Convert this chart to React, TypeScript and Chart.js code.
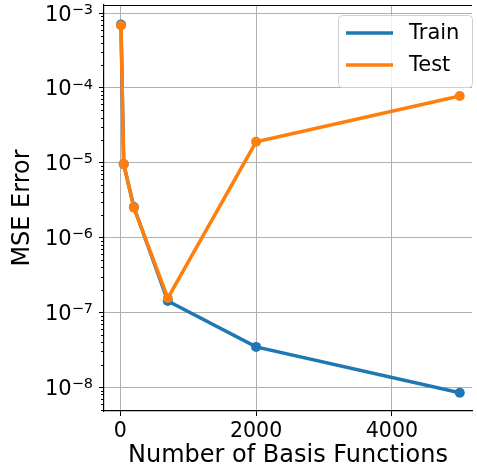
import React, { useEffect, useRef } from "react";
import { Chart, registerables } from "chart.js";

Chart.register(...registerables);

const xValues = [10, 50, 200, 700, 2000, 5000];
const trainMSE = [7.0e-4, 9.6e-6, 2.55e-6, 1.42e-7, 3.45e-8, 8.4e-9];
const testMSE = [6.8e-4, 9.5e-6, 2.5e-6, 1.55e-7, 1.9e-5, 7.8e-5];
const seriesLabels = ["Train", "Test"];
const seriesColors = ["#1f77b4", "#ff7f0e"];
const xTickValues = [0, 2000, 4000];
const yTickExponents = [-9, -8, -7, -6, -5, -4, -3];
const xTitle = "Number of Basis Functions";
const yTitle = "MSE Error";

const X_MIN = -240;
const X_MAX = 5180;
const Y_MIN = 4.8e-9;
const Y_MAX = 1.28e-3;

const FONT = "'DejaVu Sans', sans-serif";

const isMajor = (v: number) => {
  if (!(v > 0)) return false;
  const l = Math.log10(v);
  return Math.abs(l - Math.round(l)) < 1e-6;
};

const yTicks = (() => {
  const out: { value: number; major: boolean }[] = [];
  for (const e of yTickExponents) {
    for (let m = 1; m <= 9; m++) {
      const v = m * Math.pow(10, e);
      if (v >= Y_MIN && v <= Y_MAX) out.push({ value: v, major: m === 1 });
    }
  }
  return out;
})();

const decorPlugin = {
  id: "decor",
  afterDraw(chart: any) {
    const { ctx, chartArea, scales } = chart;
    ctx.save();
    // top spine
    ctx.strokeStyle = "#000";
    ctx.lineWidth = 1.2;
    ctx.beginPath();
    ctx.moveTo(chartArea.left, chartArea.top + 0.5);
    ctx.lineTo(chartArea.right, chartArea.top + 0.5);
    ctx.stroke();
    // minor ticks + major tick labels (10 with superscript exponent) on y axis
    const ys = scales.y;
    ctx.lineWidth = 1;
    for (const t of ys.ticks) {
      const py = ys.getPixelForValue(t.value);
      if (!isMajor(t.value)) {
        const p = Math.round(py) + 0.5;
        ctx.beginPath();
        ctx.moveTo(chartArea.left - 3, p);
        ctx.lineTo(chartArea.left, p);
        ctx.stroke();
        continue;
      }
      const exp = Math.round(Math.log10(t.value));
      const supText = String(exp).replace("-", "\u2212");
      const right = chartArea.left - 11;
      ctx.fillStyle = "#000";
      ctx.textBaseline = "alphabetic";
      ctx.textAlign = "left";
      ctx.font = `14.5px ${FONT}`;
      const supW = ctx.measureText(supText).width;
      ctx.font = `21px ${FONT}`;
      const baseW = ctx.measureText("10").width;
      ctx.fillText("10", right - supW - baseW, py + 7.6);
      ctx.font = `14.5px ${FONT}`;
      ctx.fillText(supText, right - supW, py + 0.8);
    }
    // legend
    const bx = 338.5,
      by = 15.5,
      bw = 134,
      bh = 72,
      r = 4;
    ctx.beginPath();
    ctx.moveTo(bx + r, by);
    ctx.lineTo(bx + bw - r, by);
    ctx.quadraticCurveTo(bx + bw, by, bx + bw, by + r);
    ctx.lineTo(bx + bw, by + bh - r);
    ctx.quadraticCurveTo(bx + bw, by + bh, bx + bw - r, by + bh);
    ctx.lineTo(bx + r, by + bh);
    ctx.quadraticCurveTo(bx, by + bh, bx, by + bh - r);
    ctx.lineTo(bx, by + r);
    ctx.quadraticCurveTo(bx, by, bx + r, by);
    ctx.closePath();
    ctx.fillStyle = "rgba(255,255,255,0.8)";
    ctx.fill();
    ctx.strokeStyle = "#d0d0d0";
    ctx.lineWidth = 1;
    ctx.stroke();
    chart.data.datasets.forEach((ds: any, i: number) => {
      const ly = 33 + i * 32;
      ctx.strokeStyle = ds.borderColor;
      ctx.lineWidth = 3.5;
      ctx.beginPath();
      ctx.moveTo(346, ly);
      ctx.lineTo(393, ly);
      ctx.stroke();
      ctx.fillStyle = "#000";
      ctx.font = `21px ${FONT}`;
      ctx.textBaseline = "middle";
      ctx.textAlign = "left";
      ctx.fillText(ds.label, 409, ly + 1);
    });
    ctx.restore();
  },
};

export default function App() {
  const ref = useRef<HTMLCanvasElement | null>(null);

  useEffect(() => {
    if (!ref.current) return;
    const series = [trainMSE, testMSE];
    const chart = new Chart(ref.current, {
      type: "line",
      data: {
        datasets: series.map((vals, i) => ({
          label: seriesLabels[i],
          data: xValues.map((x, j) => ({ x, y: vals[j] })),
          borderColor: seriesColors[i],
          backgroundColor: seriesColors[i],
          borderWidth: 3.5,
          pointRadius: 5,
          pointHoverRadius: 5,
          pointBorderWidth: 0,
          fill: false,
          tension: 0,
          order: 1 - i,
        })),
      },
      options: {
        animation: false,
        responsive: false,
        maintainAspectRatio: false,
        layout: { padding: { top: 4, left: 0, right: 0, bottom: 0 } },
        plugins: {
          legend: { display: false },
          tooltip: { enabled: false },
        },
        scales: {
          x: {
            type: "linear",
            min: X_MIN,
            max: X_MAX,
            afterBuildTicks: (scale: any) => {
              scale.ticks = xTickValues.map((v) => ({ value: v }));
            },
            afterFit: (scale: any) => {
              scale.height = 63;
              scale.paddingLeft = 0;
              scale.paddingRight = 0;
            },
            ticks: {
              color: "#000",
              font: { family: FONT, size: 20.5 },
              padding: 3,
              maxRotation: 0,
              autoSkip: false,
              callback: (value: any) => String(value),
            },
            grid: {
              color: "#b0b0b0",
              lineWidth: 1,
              tickColor: "#000",
              tickLength: 5,
            },
            border: { display: true, color: "#000", width: 1.2 },
            title: {
              display: true,
              text: xTitle,
              color: "#000",
              font: { family: FONT, size: 24 },
              padding: { top: 0, bottom: 4 },
            },
          },
          y: {
            type: "logarithmic",
            min: Y_MIN,
            max: Y_MAX,
            afterBuildTicks: (scale: any) => {
              scale.ticks = yTicks.map((t) => ({ value: t.value, major: t.major }));
            },
            afterFit: (scale: any) => {
              scale.width = 104;
              scale.paddingTop = 0;
              scale.paddingBottom = 0;
            },
            ticks: {
              color: "#000",
              font: { family: FONT, size: 21 },
              padding: 7,
              autoSkip: false,
              callback: () => "",
            },
            grid: {
              color: (c: any) => (c.tick && isMajor(c.tick.value) ? "#b0b0b0" : "rgba(0,0,0,0)"),
              lineWidth: 1,
              tickColor: (c: any) => (c.tick && isMajor(c.tick.value) ? "#000" : "rgba(0,0,0,0)"),
              tickLength: 5,
            },
            border: { display: true, color: "#000", width: 1.2 },
            title: {
              display: true,
              text: yTitle,
              color: "#000",
              font: { family: FONT, size: 24 },
              padding: { top: 8, bottom: 0 },
            },
          },
        },
      },
      plugins: [decorPlugin],
    } as any);
    return () => chart.destroy();
  }, []);

  return (
    <div style={{ position: "absolute", left: 0, top: 0, width: 477, height: 474, background: "#fff" }}>
      <canvas ref={ref} width={477} height={474} style={{ display: "block", width: 477, height: 474 }} />
    </div>
  );
}
